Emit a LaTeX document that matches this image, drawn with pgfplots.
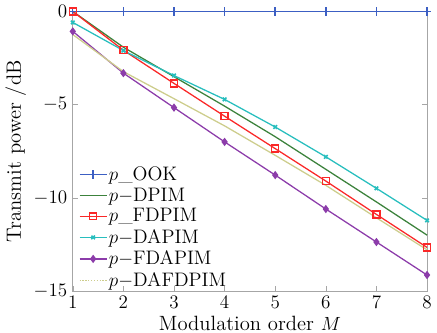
\documentclass[border=0pt]{standalone}
\usepackage{pgfplots}
\pgfplotsset{compat=1.18}
\definecolor{cook}{RGB}{60,95,195}
\definecolor{cdpim}{RGB}{60,130,60}
\definecolor{cfdpim}{RGB}{250,40,40}
\definecolor{cdapim}{RGB}{40,190,190}
\definecolor{cfdapim}{RGB}{140,60,170}
\definecolor{cdaf}{RGB}{205,205,140}
\begin{document}
\begin{tikzpicture}
\begin{axis}[
  scale only axis,
  width=223pt, height=176pt,
  xmin=1, xmax=8, ymin=-15, ymax=0,
  xtick={1,...,8}, ytick={-15,-10,-5,0},
  axis line style={gray!70},
  tick style={gray!70},
  tick align=inside,
  major tick length=3pt,
  tick label style={font=\fontsize{13}{14}\selectfont},
  label style={font=\fontsize{13}{14}\selectfont},
  xticklabel style={inner ysep=3pt},
  xlabel={Modulation order $M$},
  ylabel={Transmit power /dB},
  xlabel style={inner ysep=1.5pt},
  ylabel style={yshift=-2pt},
  clip=false,
  legend style={draw=none, fill=none, at={(0.012,0.008)}, anchor=south west,
    font=\fontsize{12.3}{13}\selectfont, row sep=3.2pt,
    inner xsep=1pt, inner ysep=0pt},
  legend cell align=left,
  every axis legend/.append style={nodes={inner xsep=1pt, inner ysep=0pt}},
]
\addplot[cook, thick, mark=+, mark size=2.6pt, mark options={solid, line width=0.9pt}] coordinates {
 (1,0) (2,0) (3,0) (4,0) (5,0) (6,0) (7,0) (8,0)};
\addlegendentry{$p$\_OOK}
\addplot[cdpim, thick] coordinates {
 (1,0) (2,-1.92) (3,-3.5) (4,-5.08) (5,-6.72) (6,-8.47) (7,-10.22) (8,-12.0)};
\addlegendentry{$p{-}$DPIM}
\addplot[cfdpim, thick, mark=square, mark size=2.2pt, mark options={solid, line width=0.8pt}] coordinates {
 (1,0) (2,-2.08) (3,-3.86) (4,-5.62) (5,-7.36) (6,-9.1) (7,-10.89) (8,-12.66)};
\addlegendentry{$p$\_FDPIM}
\addplot[cdapim, thick, mark=x, mark size=1.6pt, mark options={solid, line width=1pt}] coordinates {
 (1,-0.59) (2,-2.1) (3,-3.44) (4,-4.72) (5,-6.2) (6,-7.8) (7,-9.49) (8,-11.21)};
\addlegendentry{$p{-}$DAPIM}
\addplot[cfdapim, thick, mark=diamond*, mark size=2pt, mark options={solid}] coordinates {
 (1,-1.07) (2,-3.31) (3,-5.16) (4,-7.0) (5,-8.78) (6,-10.6) (7,-12.37) (8,-14.14)};
\addlegendentry{$p{-}$FDAPIM}
\addplot[cdaf, thick, legend image code/.code={\draw[cdaf, thick, densely dotted] (0cm,0cm) -- (0.6cm,0cm);}] coordinates {
 (1,-1.24) (2,-3.23) (3,-4.68) (4,-6.14) (5,-7.72) (6,-9.33) (7,-11.07) (8,-12.79)};
\addlegendentry{$p{-}$DAFDPIM}
\end{axis}
\end{tikzpicture}
\end{document}
